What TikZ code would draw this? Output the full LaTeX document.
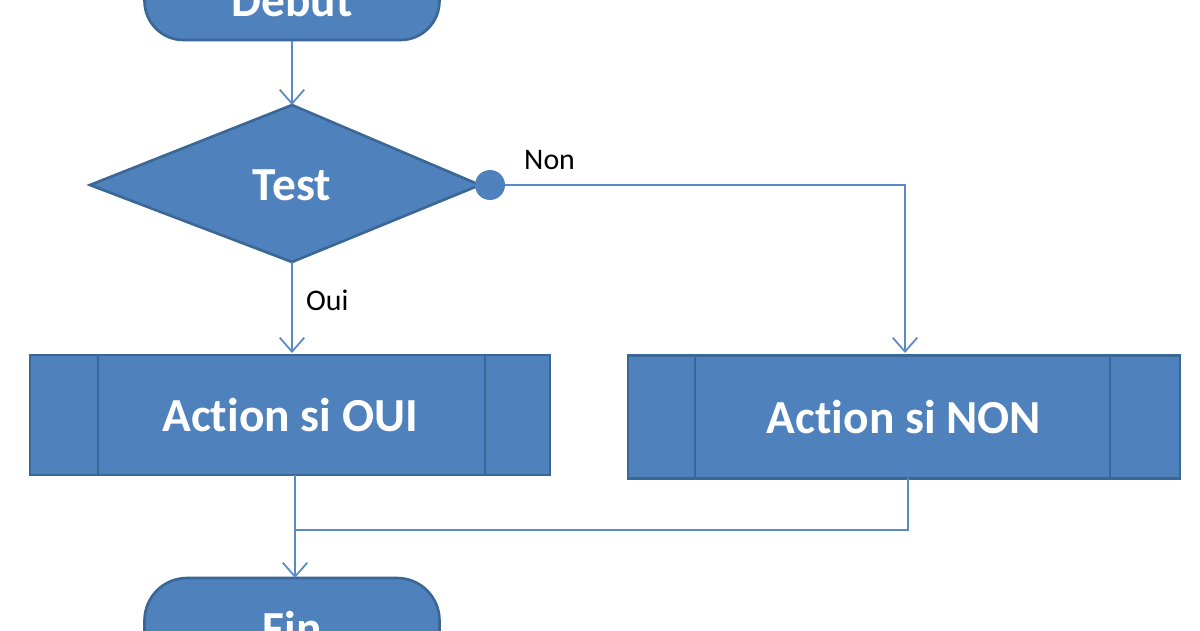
\documentclass[tikz,border=0pt]{standalone}
\usepackage{fontspec}
\setmainfont{Carlito}[Ligatures=NoCommon]
\usetikzlibrary{arrows.meta}
\definecolor{fillb}{HTML}{4F81BD}
\definecolor{edgeb}{HTML}{3A6796}
\definecolor{lineb}{HTML}{5A8AC6}
\begin{document}
\begin{tikzpicture}[x=0.02cm,y=-0.02cm,
 shp/.style={fill=fillb,draw=edgeb,line width=1.5pt,text=white,font=\bfseries\fontsize{27}{30}\selectfont},
 conn/.style={draw=lineb,line width=1pt},
 arr/.style={conn,-{Straight Barb[length=8pt,width=14pt]}},
 lab/.style={font=\fontsize{17}{20}\selectfont}]
\useasboundingbox (0,0) rectangle (1200,630);
\clip (0,0) rectangle (1200,630);
\node[shp,rounded corners=0.78cm,minimum width=295*0.02cm,minimum height=80*0.02cm] (deb) at (292,0) {Début};
\draw[shp,line join=miter] (90,185) -- (292,105) -- (480,185) -- (292,262) -- cycle;
\node[shp,draw=none,fill=none] (test) at (292,185) {Test};
\coordinate (dtop) at (292,105);
\coordinate (dbot) at (292,262);
\node[shp,minimum width=520*0.02cm,minimum height=120*0.02cm] (oui) at (290,415) {Action si OUI};
\draw[edgeb,line width=1.5pt] (98,355) -- (98,475) (485,355) -- (485,475);
\node[shp,minimum width=552*0.02cm,minimum height=123*0.02cm] (non) at (904,417) {Action si NON};
\draw[edgeb,line width=1.5pt] (695,355) -- (695,478) (1110,355) -- (1110,478);
\node[shp,rounded corners=0.85cm,minimum width=295*0.02cm,minimum height=100*0.02cm] (fin) at (292,628) {Fin};
\node[circle,fill=fillb,inner sep=0pt,minimum size=30*0.02cm] (dot) at (490,185) {};
\draw[arr] (deb.south) -- (dtop);
\draw[arr] (dot) -- (905,185) -- (905,353);
\draw[arr] (dbot) -- (292,353);
\draw[conn] (908,478) -- (908,530) -- (295,530);
\draw[arr] (295,475) -- (295,578);
\node[lab,anchor=west] at (518,160) {Non};
\node[lab,anchor=west] at (300,300) {Oui};
\end{tikzpicture}
\end{document}
